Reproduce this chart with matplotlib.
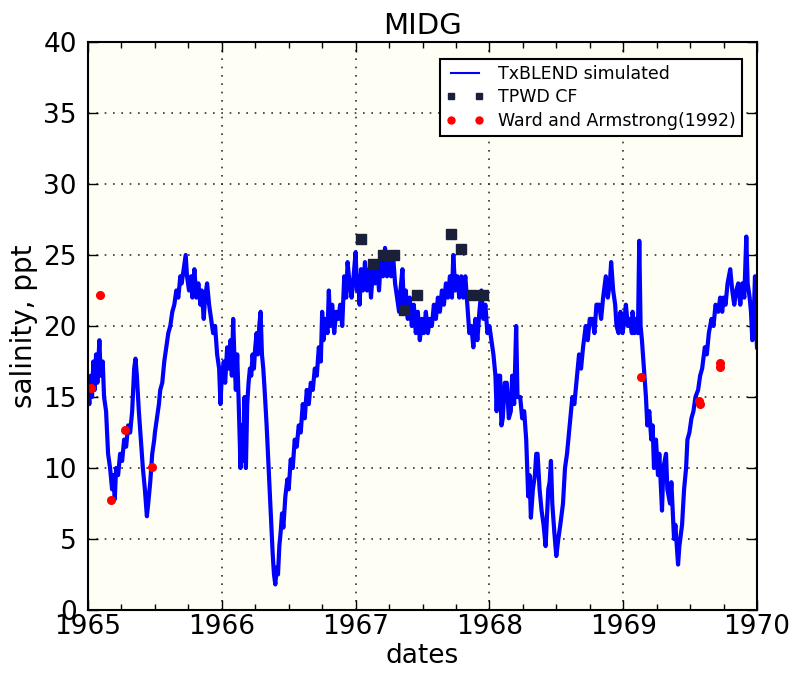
import matplotlib
matplotlib.use("Agg")
import matplotlib.pyplot as plt
from matplotlib.ticker import MultipleLocator

# TxBLEND simulated salinity (decimal year, ppt)
sim_years = [
    1965.00, 1965.01, 1965.02, 1965.03, 1965.04, 1965.05, 1965.06, 1965.07, 1965.085, 1965.095,
    1965.11, 1965.12, 1965.135, 1965.15, 1965.165, 1965.18, 1965.19, 1965.20, 1965.21, 1965.225,
    1965.24, 1965.255, 1965.27, 1965.285, 1965.30, 1965.315, 1965.33, 1965.345, 1965.355, 1965.365,
    1965.38, 1965.395, 1965.41, 1965.425, 1965.44, 1965.45, 1965.465, 1965.48, 1965.495, 1965.50,
    1965.515, 1965.53, 1965.54, 1965.555, 1965.57, 1965.585, 1965.60, 1965.615, 1965.63, 1965.645,
    1965.66, 1965.675, 1965.69, 1965.70, 1965.715, 1965.73, 1965.74, 1965.755, 1965.77, 1965.78,
    1965.795, 1965.81, 1965.825, 1965.84, 1965.85, 1965.865, 1965.875, 1965.89, 1965.905, 1965.92,
    1965.935, 1965.95, 1965.965, 1965.98, 1965.99, 1966.00, 1966.015, 1966.025, 1966.04, 1966.05,
    1966.065, 1966.075, 1966.085, 1966.095, 1966.105, 1966.115, 1966.125, 1966.135, 1966.14, 1966.15,
    1966.16, 1966.17, 1966.18, 1966.19, 1966.20, 1966.21, 1966.22, 1966.23, 1966.24, 1966.25,
    1966.26, 1966.27, 1966.28, 1966.29, 1966.30, 1966.31, 1966.32, 1966.335, 1966.35, 1966.36,
    1966.37, 1966.38, 1966.39, 1966.40, 1966.41, 1966.42, 1966.43, 1966.44, 1966.45, 1966.46,
    1966.475, 1966.49, 1966.50, 1966.515, 1966.53, 1966.545, 1966.56, 1966.575, 1966.59, 1966.605,
    1966.62, 1966.635, 1966.65, 1966.665, 1966.68, 1966.695, 1966.71, 1966.725, 1966.74, 1966.75,
    1966.76, 1966.775, 1966.79, 1966.80, 1966.81, 1966.825, 1966.84, 1966.855, 1966.87, 1966.885,
    1966.90, 1966.915, 1966.93, 1966.94, 1966.955, 1966.97, 1966.985, 1967.00, 1967.01, 1967.02,
    1967.03, 1967.04, 1967.055, 1967.07, 1967.085, 1967.10, 1967.115, 1967.13, 1967.145, 1967.16,
    1967.175, 1967.19, 1967.205, 1967.22, 1967.235, 1967.25, 1967.265, 1967.28, 1967.295, 1967.31,
    1967.325, 1967.335, 1967.35, 1967.36, 1967.375, 1967.39, 1967.405, 1967.42, 1967.435, 1967.45,
    1967.465, 1967.48, 1967.495, 1967.51, 1967.525, 1967.54, 1967.555, 1967.57, 1967.585, 1967.60,
    1967.615, 1967.63, 1967.645, 1967.66, 1967.675, 1967.69, 1967.705, 1967.72, 1967.73, 1967.745,
    1967.76, 1967.775, 1967.79, 1967.805, 1967.82, 1967.835, 1967.85, 1967.865, 1967.88, 1967.895,
    1967.91, 1967.925, 1967.94, 1967.955, 1967.97, 1967.985, 1968.00, 1968.015, 1968.03, 1968.045,
    1968.054, 1968.065, 1968.08, 1968.09, 1968.10, 1968.115, 1968.13, 1968.145, 1968.16, 1968.17,
    1968.185, 1968.20, 1968.21, 1968.23, 1968.245, 1968.26, 1968.275, 1968.29, 1968.30, 1968.31,
    1968.325, 1968.34, 1968.35, 1968.36, 1968.375, 1968.39, 1968.405, 1968.42, 1968.43, 1968.44,
    1968.45, 1968.46, 1968.47, 1968.485, 1968.50, 1968.515, 1968.53, 1968.55, 1968.565, 1968.58,
    1968.59, 1968.605, 1968.62, 1968.635, 1968.65, 1968.67, 1968.685, 1968.70, 1968.72, 1968.735,
    1968.75, 1968.77, 1968.785, 1968.80, 1968.82, 1968.835, 1968.85, 1968.87, 1968.885, 1968.90,
    1968.91, 1968.925, 1968.94, 1968.95, 1968.965, 1968.98, 1968.995, 1969.01, 1969.02, 1969.035,
    1969.05, 1969.065, 1969.07, 1969.085, 1969.10, 1969.11, 1969.12, 1969.13, 1969.14, 1969.155,
    1969.17, 1969.18, 1969.195, 1969.21, 1969.22, 1969.23, 1969.245, 1969.26, 1969.27, 1969.28,
    1969.29, 1969.30, 1969.32, 1969.33, 1969.35, 1969.36, 1969.38, 1969.39, 1969.41, 1969.42,
    1969.44, 1969.455, 1969.47, 1969.48, 1969.495, 1969.51, 1969.525, 1969.54, 1969.56, 1969.575,
    1969.59, 1969.61, 1969.625, 1969.64, 1969.66, 1969.675, 1969.69, 1969.71, 1969.725, 1969.74,
    1969.75, 1969.765, 1969.78, 1969.80, 1969.815, 1969.83, 1969.845, 1969.86, 1969.875, 1969.89,
    1969.905, 1969.92, 1969.93, 1969.945, 1969.955, 1969.965, 1969.975, 1969.985, 1969.995, 1970.00,
]
sim_salinity = [
    15.5, 14.5, 16.5, 15.0, 17.5, 15.5, 18.0, 16.0, 19.0, 16.5,
    17.5, 15.0, 14.0, 11.0, 10.0, 8.5, 9.5, 7.8, 10.0, 9.5,
    11.0, 10.5, 12.0, 11.5, 13.0, 12.5, 14.0, 17.0, 17.7, 16.5,
    14.0, 12.0, 10.0, 8.5, 6.6, 7.5, 9.0, 11.0, 12.0, 12.5,
    13.5, 14.5, 15.5, 16.0, 17.5, 18.5, 19.5, 20.0, 21.0, 21.5,
    22.5, 22.0, 23.5, 23.0, 24.0, 25.0, 23.5, 22.5, 23.5, 22.0,
    24.0, 22.0, 23.0, 21.5, 22.5, 20.5, 22.0, 23.0, 21.5, 20.5,
    19.5, 20.0, 18.0, 17.0, 14.5, 16.5, 17.5, 16.0, 18.5, 17.0,
    19.0, 16.5, 20.5, 17.5, 15.5, 18.0, 15.0, 11.5, 10.0, 13.0,
    10.5, 15.0, 10.0, 14.5, 16.0, 17.0, 16.5, 18.0, 17.0, 18.5,
    19.5, 18.0, 20.0, 21.0, 18.0, 17.0, 15.5, 13.0, 10.0, 8.0,
    6.0, 4.0, 2.5, 1.8, 3.0, 2.5, 4.5, 5.5, 6.8, 5.8,
    8.0, 9.2, 8.5, 10.6, 10.0, 12.0, 11.5, 13.0, 12.5, 14.5,
    13.5, 15.5, 14.5, 16.0, 15.5, 17.0, 16.5, 18.5, 17.5, 21.0,
    19.0, 20.5, 19.5, 22.5, 20.0, 21.5, 19.5, 21.0, 20.5, 21.5,
    20.0, 23.5, 22.0, 24.5, 23.0, 22.0, 23.5, 25.2, 22.5, 23.5,
    21.5, 24.0, 22.5, 24.5, 22.5, 24.0, 22.0, 24.0, 23.0, 24.5,
    22.5, 25.0, 23.5, 25.5, 23.5, 25.0, 23.5, 25.0, 23.0, 22.0,
    21.0, 22.5, 24.0, 21.5, 22.5, 20.5, 22.0, 20.0, 21.5, 19.5,
    21.0, 19.0, 20.5, 19.5, 21.0, 19.5, 20.5, 20.0, 21.5, 20.5,
    22.0, 21.0, 22.5, 21.5, 23.0, 22.0, 23.5, 22.0, 25.0, 22.5,
    23.5, 22.0, 23.5, 22.0, 23.5, 21.5, 19.5, 20.0, 18.5, 20.5,
    19.0, 21.0, 22.5, 20.5, 21.5, 19.5, 20.0, 19.0, 18.0, 16.5,
    14.0, 16.5, 16.5, 13.0, 13.5, 16.0, 16.0, 13.5, 14.0, 16.5,
    14.5, 20.0, 15.0, 15.0, 13.5, 14.0, 12.0, 8.0, 9.5, 6.5,
    8.5, 9.5, 11.0, 11.0, 8.5, 7.0, 6.0, 4.5, 6.5, 8.5,
    9.0, 10.5, 7.5, 5.5, 3.8, 5.0, 6.0, 7.5, 10.0, 11.0,
    12.0, 13.5, 15.0, 14.5, 16.0, 18.0, 17.0, 18.5, 20.0, 19.0,
    20.5, 20.5, 19.5, 21.5, 21.5, 20.5, 22.0, 23.5, 22.0, 23.0,
    24.5, 22.5, 21.5, 20.0, 19.5, 21.0, 19.5, 20.5, 21.5, 20.0,
    20.5, 19.5, 21.0, 19.5, 20.5, 19.5, 26.0, 20.0, 19.0, 17.0,
    15.0, 13.0, 14.0, 12.0, 13.0, 10.0, 12.0, 9.5, 11.0, 9.0,
    7.0, 10.0, 11.0, 8.5, 7.5, 9.0, 5.0, 6.0, 3.2, 4.5,
    6.0, 8.5, 10.0, 12.0, 12.5, 13.5, 14.0, 15.0, 15.5, 16.5,
    17.0, 18.5, 18.0, 19.5, 20.5, 20.0, 21.5, 21.0, 22.0, 21.0,
    22.0, 21.5, 23.0, 24.0, 22.5, 21.5, 22.5, 23.0, 21.5, 23.0,
    22.0, 26.3, 23.0, 22.0, 21.0, 19.0, 20.5, 23.5, 19.5, 18.5,
]

# TPWD CF observations
tpwd_years = [1967.04, 1967.13, 1967.205, 1967.29, 1967.365, 1967.46, 1967.71, 1967.79, 1967.87, 1967.955]
tpwd_salinity = [26.1, 24.4, 25.0, 25.0, 21.1, 22.2, 26.5, 25.4, 22.2, 22.2]

# Ward and Armstrong (1992) observations
ward_years = [1965.02, 1965.09, 1965.17, 1965.275, 1965.475, 1969.13, 1969.57, 1969.575, 1969.72, 1969.72]
ward_salinity = [15.6, 22.2, 7.75, 12.7, 10.1, 16.4, 14.7, 14.5, 17.4, 17.1]

year_ticks = [1965, 1966, 1967, 1968, 1969, 1970]

fig = plt.figure(figsize=(7.95, 6.73), dpi=100)
ax = fig.add_axes([0.1107, 0.0936, 0.8415, 0.844])
ax.set_facecolor("#fefef5")

ax.plot(sim_years, sim_salinity, color="blue", linewidth=3.0, label="TxBLEND simulated")
ax.plot(tpwd_years, tpwd_salinity, "s", color="#1a1f3a", markersize=6.5,
        linestyle="none", label="TPWD CF")
ax.plot(ward_years, ward_salinity, "o", color="red", markersize=5.5,
        markeredgecolor="red", linestyle="none", label="Ward and Armstrong(1992)")

ax.set_xlim(1965, 1970)
ax.set_ylim(0, 40)
ax.set_xticks(year_ticks)
ax.set_xticklabels([str(y) for y in year_ticks])
ax.xaxis.set_minor_locator(MultipleLocator(0.25))
ax.yaxis.set_major_locator(MultipleLocator(5))

ax.tick_params(which="both", direction="in", top=True, right=True, labelsize=19)
ax.tick_params(which="major", length=7, width=1)
ax.tick_params(which="minor", length=4, width=1)
ax.tick_params(axis="x", pad=3)
ax.tick_params(axis="y", pad=8)
for s in ax.spines.values():
    s.set_linewidth(1.5)

ax.grid(True, which="major", color="#333333", linestyle=(0, (1, 4)), linewidth=1.2)

ax.set_xlabel("dates", fontsize=19, labelpad=2)
ax.set_ylabel("salinity, ppt", fontsize=20, labelpad=4)
ax.set_title("MIDG", fontsize=21, pad=6)

leg = ax.legend(loc="upper right", numpoints=2, fontsize=12.5, fancybox=False,
                handlelength=2.2, borderpad=0.35, labelspacing=0.3,
                bbox_to_anchor=(0.99, 0.985))
leg.get_frame().set_edgecolor("black")
leg.get_frame().set_linewidth(1.5)
leg.get_frame().set_facecolor("white")
leg.get_frame().set_alpha(1)
handles = leg.get_lines()
handles[0].set_linewidth(1.5)
handles[1].set_markersize(5)
handles[2].set_markersize(5)

plt.savefig("out.png", dpi=100)
